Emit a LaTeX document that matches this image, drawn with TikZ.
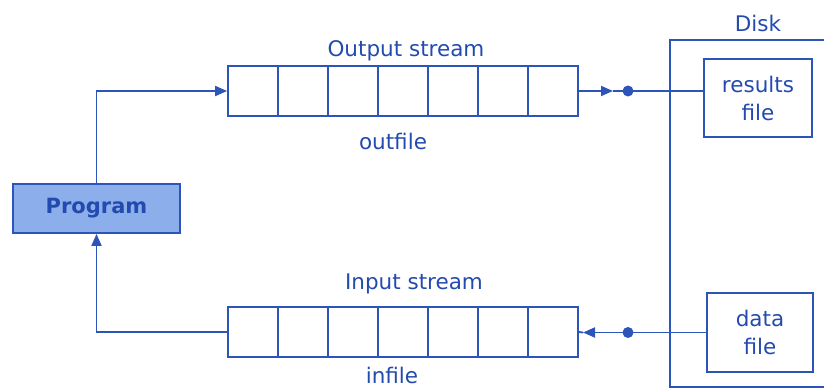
\documentclass[tikz,border=0pt]{standalone}
\usepackage{fontspec}
\setmainfont{DejaVu Sans}
\usetikzlibrary{arrows.meta,positioning}
\definecolor{linecol}{RGB}{45,85,185}
\definecolor{textcol}{RGB}{35,75,175}
\definecolor{progfill}{RGB}{140,174,235}

\begin{document}
\begin{tikzpicture}[x=1pt,y=-1pt,
    every node/.style={text=textcol, font=\fontsize{21.5}{28}\selectfont},
    line/.style={draw=linecol, line width=1.8pt},
    flow/.style={line, -{Triangle[length=12pt,width=10pt]}},
    cell/.style={line, minimum size=50pt, inner sep=0pt},
    filebox/.style={line, align=center, inner sep=0pt},
    dotnode/.style={circle, fill=linecol, inner sep=0pt, minimum size=11pt}]
    \useasboundingbox (0,0) rectangle (824,390);
    \node[line, fill=progfill, minimum width=167pt, minimum height=49pt, inner sep=0pt,
        font=\fontsize{21}{28}\selectfont\bfseries] (prog) at (96.5,208.5) {Program};
    % the two streams, seven cells each
    \foreach \i in {1,...,7} {
        \node[cell] (out\i) at ({203+50*\i},91) {};
        \node[cell] (in\i) at ({203+50*\i},332) {};
    }
    \node[anchor=base] at (406,57) {Output stream};
    \node[anchor=base] at (393,150) {outfile};
    \node[anchor=base] at (414,289) {Input stream};
    \node[anchor=base] at (392,383) {infile};
    % disk, open on the right
    \draw[line] (830,40) -- (670,40) -- (670,387) -- (830,387);
    \node[anchor=base] (disk) at (758,32) {Disk};
    \node[filebox, minimum width=108pt, minimum height=78pt] (results) at (758,98) {results\\file};
    \node[filebox, minimum width=106pt, minimum height=79pt] (data) at (760,332.5) {data\\file};
    \coordinate (arrO) at (613,91);
    \coordinate (arrI) at (583,332.5);
    \node[dotnode] (dotO) at (628,91) {};
    \node[dotnode] (dotI) at (628,332.5) {};
    \draw[flow] (prog.north) |- (out1.west);
    \draw[flow] (in1.west) -| (prog.south);
    \draw[flow] (out7.east) -- (arrO);
    \draw[line] (arrO) -- (results.west |- arrO);
    \draw[flow] (data.west) -- (arrI);
    \draw[line] (arrI) -- (in7.east);
\end{tikzpicture}
\end{document}
